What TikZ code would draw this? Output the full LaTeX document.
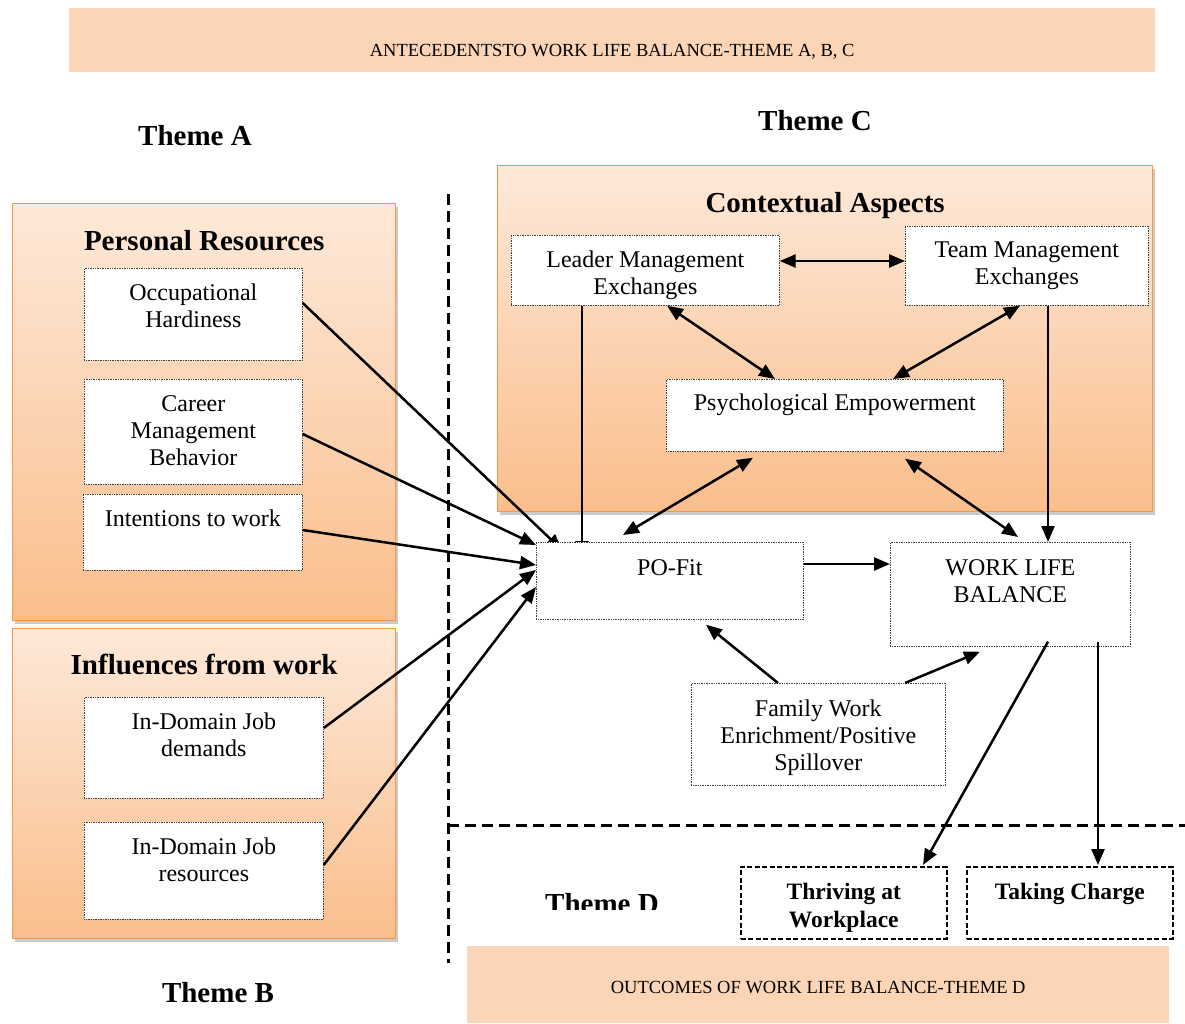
\documentclass[tikz,border=0pt]{standalone}
\usepackage{fontspec}
\setmainfont{Liberation Serif}
\usetikzlibrary{arrows.meta,shadows}
\pgfdeclarelayer{bg}\pgfdeclarelayer{mid}\pgfsetlayers{bg,mid,main}
\definecolor{banfill}{HTML}{FBD5B5}
\definecolor{orgtop}{HTML}{FDE9D9}
\definecolor{orgbot}{HTML}{FABE8C}
\definecolor{orgline}{HTML}{F79646}
\newcommand{\bx}[4]{\parbox[c][#2][t]{#1}{\centering\rule{0pt}{#3}#4\par}}
\begin{document}
\begin{tikzpicture}[x=1pt,y=-1pt,
  >={Triangle[length=16pt,width=13pt]},
  smallbox/.style={draw=black!75, densely dotted, line width=0.7pt, fill=white, inner sep=0pt, anchor=north west, font=\fontsize{24}{27}\selectfont},
  outbox/.style={draw=black, dash pattern=on 5pt off 2.5pt, line width=1.6pt, fill=white, inner sep=0pt, anchor=north west, font=\bfseries\fontsize{23.5}{28}\selectfont},
  bigbox/.style={draw=orgline, line width=1.3pt, top color=orgtop, bottom color=orgbot, inner sep=0pt, anchor=north west,
     drop shadow={shadow xshift=2pt, shadow yshift=-3pt, opacity=0.35, fill=black!60},
     font=\bfseries\fontsize{29}{34}\selectfont},
  banner/.style={fill=banfill, inner sep=0pt, anchor=north west, font=\fontsize{18.5}{22}\selectfont},
  theme/.style={anchor=base, inner sep=0pt, font=\bfseries\fontsize{29}{34}\selectfont},
  arr/.style={line width=2.5pt, ->},
  darr/.style={line width=2.5pt, <->},
  divider/.style={line width=3pt, dash pattern=on 11pt off 6pt}
]
\useasboundingbox (0,0) rectangle (1185,1023);

% banners
\node[banner] (topban) at (69,8) {\bx{1086pt}{64pt}{48pt}{ANTECEDENTSTO WORK LIFE BALANCE-THEME A, B, C}};
\node[banner] (botban) at (467,946) {\bx{702pt}{77pt}{47pt}{OUTCOMES OF WORK LIFE BALANCE-THEME D}};

% theme labels
\node[theme] (themeA) at (195,145) {Theme A};
\node[theme] (themeC) at (815,130) {Theme C};
\node[theme] (themeB) at (218,1002) {Theme B};
\begin{scope}
  \clip (500,880) rectangle (720,909);
  \node[theme] (themeD) at (602,913) {Theme D};
\end{scope}

% dividers
\draw[divider] (448,194) -- (448,963);
\draw[divider] (448,825) -- (1185,825);

% big group boxes
\begin{pgfonlayer}{bg}
\node[bigbox] (prb) at (12,203) {\bx{383pt}{417pt}{47pt}{Personal Resources}};
\node[bigbox] (ifw) at (12,628) {\bx{383pt}{310pt}{46pt}{Influences from work}};
\node[bigbox] (ctx) at (497,165) {\bx{655pt}{346pt}{47pt}{Contextual Aspects}};
\end{pgfonlayer}

% small boxes
\node[smallbox] (occ) at (84,268) {\bx{218pt}{92pt}{32pt}{Occupational\\Hardiness}};
\node[smallbox] (cmb) at (84,379) {\bx{218pt}{105pt}{32pt}{Career\\Management\\Behavior}};
\node[smallbox] (itw) at (83,494) {\bx{219pt}{76pt}{32pt}{Intentions to work}};
\node[smallbox] (idd) at (84,697) {\bx{239pt}{101pt}{32pt}{In-Domain Job\\demands}};
\node[smallbox] (idr) at (84,822) {\bx{239pt}{97pt}{32pt}{In-Domain Job\\resources}};
\node[smallbox] (lme) at (511,235) {\bx{268pt}{70pt}{32pt}{Leader Management\\Exchanges}};
\node[smallbox] (tme) at (905,226) {\bx{243pt}{79pt}{31pt}{Team Management\\Exchanges}};
\node[smallbox] (psy) at (666,379) {\bx{337pt}{72pt}{31pt}{Psychological Empowerment}};
\node[smallbox] (pof) at (536,542) {\bx{267pt}{77pt}{33pt}{PO-Fit}};
\node[smallbox] (wlb) at (890,542) {\bx{240pt}{104pt}{33pt}{WORK LIFE\\BALANCE}};
\node[smallbox] (fwe) at (691,683) {\bx{254pt}{102pt}{33pt}{Family Work\\Enrichment/Positive\\Spillover}};
\node[outbox] (thr) at (740,866) {\bx{206pt}{72pt}{33pt}{Thriving at\\Workplace}};
\node[outbox] (tkc) at (966,866) {\bx{206pt}{72pt}{33pt}{Taking Charge}};

% connectors
\begin{pgfonlayer}{mid}
\draw[arr] ([yshift=-35pt]occ.north east) -- ([xshift=26pt,yshift=-8pt]pof.north west);
\draw[arr] ([xshift=71pt]lme.south west) -- ([xshift=46pt,yshift=-15pt]pof.north west);
\end{pgfonlayer}
\draw[arr] ([yshift=-55pt]cmb.north east) -- ([yshift=-3pt]pof.north west);
\draw[arr] ([yshift=-36pt]itw.north east) -- ([yshift=-23pt]pof.north west);
\draw[arr] ([yshift=-31pt]idd.north east) -- ([yshift=-28pt]pof.north west);
\draw[arr] ([yshift=-43pt]idr.north east) -- ([yshift=-45pt]pof.north west);

\draw[darr] ([yshift=-26pt]lme.north east) -- ([yshift=-35pt]tme.north west);
\draw[darr] ([xshift=156pt]lme.south west) -- ([xshift=109pt]psy.north west);
\draw[darr] ([xshift=115pt]tme.south west) -- ([xshift=227pt]psy.north west);
\draw[arr] ([xshift=143pt]tme.south west) -- ([xshift=158pt]wlb.north west);
\draw[darr] ([xshift=87pt,yshift=-6pt]psy.south west) -- ([xshift=87pt,yshift=7pt]pof.north west);
\draw[darr] ([xshift=239pt,yshift=-7pt]psy.south west) -- ([xshift=128pt,yshift=5pt]wlb.north west);
\draw[arr] ([yshift=-22pt]pof.north east) -- ([yshift=-22pt]wlb.north west);
\draw[arr] ([xshift=87pt]fwe.north west) -- ([xshift=170pt,yshift=-5pt]pof.south west);
\draw[arr] ([xshift=214pt]fwe.north west) -- ([xshift=90pt,yshift=-5pt]wlb.south west);
\draw[arr] ([xshift=158pt,yshift=5pt]wlb.south west) -- ([xshift=183pt,yshift=1pt]thr.north west);
\draw[arr] ([xshift=208pt,yshift=5pt]wlb.south west) -- ([xshift=132pt,yshift=1pt]tkc.north west);
\end{tikzpicture}
\end{document}
